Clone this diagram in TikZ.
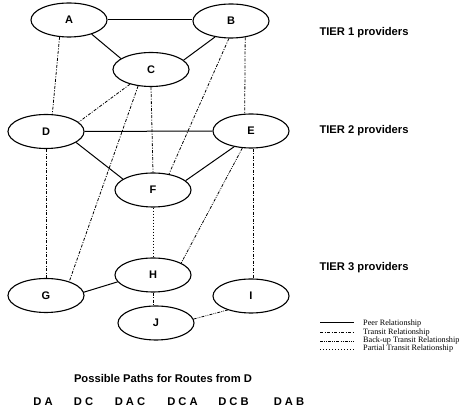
\documentclass[tikz,border=0pt]{standalone}
\usepackage{fontspec}
\setmainfont{Liberation Sans}
\newfontfamily\legendfont{Liberation Serif}
\usetikzlibrary{shapes.geometric}

\begin{document}
\begin{tikzpicture}[x=1pt, y=-1pt,
  prov/.style={draw, ellipse, line width=1.1pt, minimum width=76pt, minimum height=34pt, inner sep=0pt, font=\fontsize{11}{13}\selectfont\bfseries},
  lbl/.style={font=\fontsize{11.2}{13}\selectfont\bfseries},
  key/.style={anchor=west, inner sep=0pt, font=\legendfont\fontsize{8.2}{10}\selectfont},
  peer/.style={line width=1pt},
  transit/.style={line width=0.8pt, dash pattern=on 3pt off 1.5pt on 1pt off 1.5pt},
  backup/.style={line width=0.8pt, dash pattern=on 3pt off 1.2pt on 0.8pt off 1.2pt on 0.8pt off 1.2pt},
  partial/.style={line width=0.8pt, dash pattern=on 0.8pt off 2.2pt}]
\useasboundingbox (0,0) rectangle (461,411);

\node[prov] (a) at (69, 20) {A};
\node[prov] (b) at (231, 21) {B};
\node[prov] (c) at (151, 69.5) {C};
\node[prov] (d) at (46, 131.5) {D};
\node[prov] (e) at (251, 131) {E};
\node[prov] (f) at (153, 190) {F};
\node[prov] (h) at (153, 275) {H};
\node[prov] (g) at (46, 295.5) {G};
\node[prov] (i) at (251, 296) {I};
\node[prov] (j) at (156, 323) {J};

\draw[peer] (a.east) -- (a.east -| b.west);
\draw[peer] (a.-32) -- (c.160);
\draw[peer] (b.-135) -- (c.16);
\draw[peer] (d) -- (e);
\draw[peer] (d.-20) -- (f.160);
\draw[peer] (e.-137) -- (f.16);
\draw[peer] (g.5) -- (h.-169);

\draw[transit] (a.-119) -- (d.70);
\draw[transit] (b.-49) -- (e.110);
\draw[transit] (b.-97) -- (f.45);
\draw[transit] (c.-145) -- (d.16);
\draw[transit] (c.-128) -- (g.31);
\draw[transit] (c.south) -- (f.north);
\draw[transit] (d.south) -- (g.north);
\draw[transit] (e.-83) -- (i.83);
\draw[transit] (h.south) -- (h.south |- j.north);

\draw[backup] (e.-117) -- (h.23);
\draw[backup] (j.6) -- (i.-149);

\draw[partial] (f.south) -- (h.north);

\node[lbl, anchor=west] (t1) at (316, 33) {TIER 1 providers};
\node[lbl, anchor=west] (t2) at (316, 131) {TIER 2 providers};
\node[lbl, anchor=west] (t3) at (316, 268) {TIER 3 providers};

% legend
\def\x{320}
\def\y{323}
\coordinate (l1a) at (\x + 0, \y + 0);
\coordinate (l1b) at (\x + 34, \y + 0);
\coordinate (l2a) at (\x + 0, \y + 9.5);
\coordinate (l2b) at (\x + 34, \y + 9.5);
\coordinate (l3a) at (\x + 0, \y + 18);
\coordinate (l3b) at (\x + 34, \y + 18);
\coordinate (l4a) at (\x + 0, \y + 26);
\coordinate (l4b) at (\x + 34, \y + 26);
\draw[peer] (l1a) -- (l1b);
\draw[transit] (l2a) -- (l2b);
\draw[backup] (l3a) -- (l3b);
\draw[partial] (l4a) -- (l4b);
\node[key] (k1) at (\x + 43, \y + 1) {Peer Relationship};
\node[key] (k2) at (\x + 43, \y + 10) {Transit Relationship};
\node[key] (k3) at (\x + 43, \y + 18) {Back-up Transit Relationship};
\node[key] (k4) at (\x + 43, \y + 26) {Partial Transit Relationship};

% paths
\node[lbl] (title) at (163, 378) {Possible Paths for Routes from D};
\node[lbl] (p1) at (43, 402) {D A};
\node[lbl] (p2) at (83.5, 402) {D C};
\node[lbl] (p3) at (130, 402) {D A C};
\node[lbl] (p4) at (182.5, 402) {D C A};
\node[lbl] (p5) at (233.5, 402) {D C B};
\node[lbl] (p6) at (289, 402) {D A B};

\end{tikzpicture}
\end{document}
